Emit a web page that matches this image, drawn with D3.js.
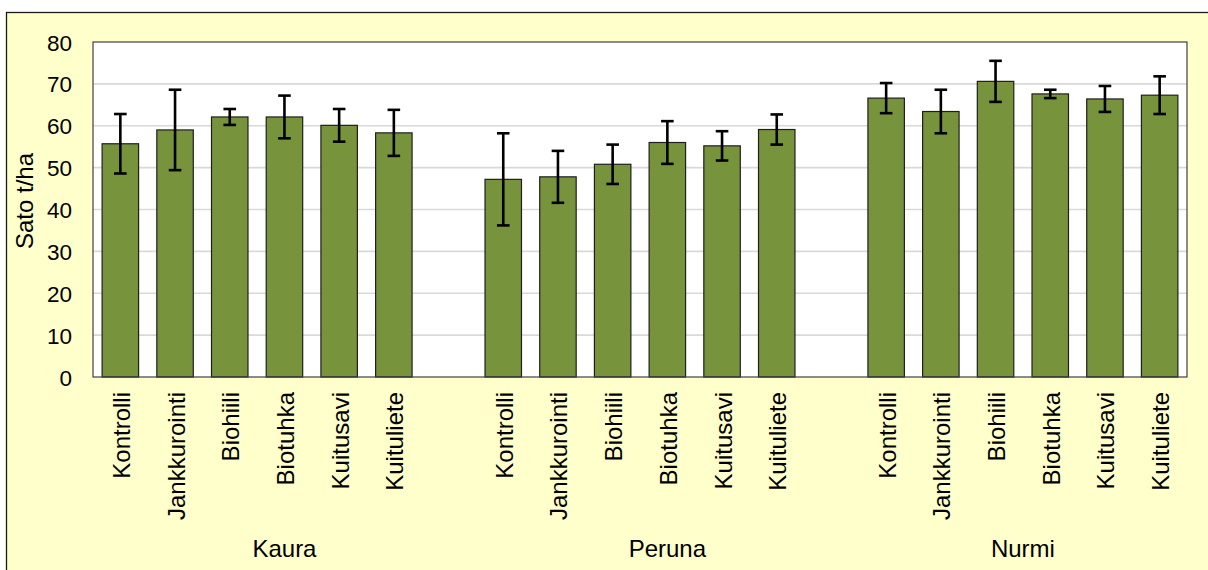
<!DOCTYPE html>
<html>
<head>
<meta charset="utf-8">
<script src="https://cdn.jsdelivr.net/npm/d3@7"></script>
<style>
  html, body { margin: 0; padding: 0; background: #ffffff; }
  svg { display: block; font-family: "Liberation Sans", Arial, sans-serif; }
</style>
</head>
<body>
<svg id="chart" width="1208" height="570"></svg>
<script>
// ---- data ----
const groups = ["Kaura", "Peruna", "Nurmi"];
const treatments = ["Kontrolli", "Jankkurointi", "Biohiili", "Biotuhka", "Kuitusavi", "Kuituliete"];
const kauraValues  = [55.7, 59.0, 62.1, 62.1, 60.1, 58.3];
const kauraErrors  = [7.1, 9.6, 1.9, 5.1, 3.9, 5.5];
const perunaValues = [47.2, 47.8, 50.8, 56.0, 55.2, 59.1];
const perunaErrors = [11.0, 6.2, 4.7, 5.1, 3.5, 3.6];
const nurmiValues  = [66.6, 63.4, 70.6, 67.6, 66.4, 67.3];
const nurmiErrors  = [3.6, 5.2, 4.9, 1.0, 3.1, 4.5];
const yTicks = [0, 10, 20, 30, 40, 50, 60, 70, 80];
const yTitle = "Sato t/ha";

const seriesValues = [kauraValues, perunaValues, nurmiValues];
const seriesErrors = [kauraErrors, perunaErrors, nurmiErrors];

// build slots: each group's treatments, plus an empty slot after all but the last group
const slots = [];
groups.forEach((g, gi) => {
  treatments.forEach((t, ti) => {
    slots.push({ key: g + "|" + t, group: g, label: t, value: seriesValues[gi][ti], err: seriesErrors[gi][ti] });
  });
  if (gi < groups.length - 1) slots.push({ key: g + "|blank", group: g, label: "", value: null, err: null });
});

// ---- layout ----
const svg = d3.select("#chart");
const W = 1208, H = 570;
const plot = { left: 93, right: 1187, top: 42, bottom: 377 };

// chart area background + border
svg.append("rect").attr("x", 6.5).attr("y", 12.5).attr("width", W + 10).attr("height", H + 10)
  .attr("fill", "#FFFFCC").attr("stroke", "#1a1a1a").attr("stroke-width", 1.3);

const x = d3.scaleBand().domain(slots.map(d => d.key))
  .range([plot.left, plot.right]).paddingInner(1/3).paddingOuter(1/6);
const y = d3.scaleLinear().domain([0, 80]).range([plot.bottom, plot.top]);

// plot area
svg.append("rect").attr("x", plot.left).attr("y", plot.top)
  .attr("width", plot.right - plot.left).attr("height", plot.bottom - plot.top)
  .attr("fill", "#ffffff");

// gridlines
svg.append("g").selectAll("line").data(yTicks.filter(t => t > 0 && t < 80)).join("line")
  .attr("x1", plot.left).attr("x2", plot.right)
  .attr("y1", d => y(d)).attr("y2", d => y(d))
  .attr("stroke", "#d9d9d9").attr("stroke-width", 1.6);

// y axis tick labels
const yAxis = d3.axisLeft(y).tickValues(yTicks).tickSize(0).tickPadding(0);
const yg = svg.append("g").attr("transform", `translate(${plot.left - 21},0)`).call(yAxis);
yg.select(".domain").remove();
yg.selectAll("text").attr("font-size", 22.5).attr("fill", "#000")
  .attr("font-family", "Liberation Sans, Arial, sans-serif").attr("dy", "0.36em");

// bars
const bars = slots.filter(d => d.value !== null);
svg.append("g").selectAll("rect").data(bars).join("rect")
  .attr("x", d => x(d.key)).attr("width", x.bandwidth())
  .attr("y", d => y(d.value)).attr("height", d => y(0) - y(d.value))
  .attr("fill", "#77933C").attr("stroke", "#1f1f1f").attr("stroke-width", 1.2);

// error bars
const eg = svg.append("g").attr("stroke", "#000").attr("stroke-width", 2.6);
const cap = 6.3;
bars.forEach(d => {
  const cx = x(d.key) + x.bandwidth() / 2;
  eg.append("line").attr("x1", cx).attr("x2", cx).attr("y1", y(d.value + d.err)).attr("y2", y(d.value - d.err));
  eg.append("line").attr("x1", cx - cap).attr("x2", cx + cap).attr("y1", y(d.value + d.err)).attr("y2", y(d.value + d.err));
  eg.append("line").attr("x1", cx - cap).attr("x2", cx + cap).attr("y1", y(d.value - d.err)).attr("y2", y(d.value - d.err));
});

// plot frame
svg.append("rect").attr("x", plot.left).attr("y", plot.top)
  .attr("width", plot.right - plot.left).attr("height", plot.bottom - plot.top)
  .attr("fill", "none").attr("stroke", "#404040").attr("stroke-width", 1.2);

// category labels (rotated)
svg.append("g").selectAll("text").data(bars).join("text")
  .attr("transform", d => `translate(${x(d.key) + x.bandwidth() / 2 + 9.5},392) rotate(-90)`)
  .attr("text-anchor", "end").attr("font-size", 24).attr("fill", "#000")
  .text(d => d.label);

// group labels
groups.forEach(g => {
  const ks = slots.filter(d => d.group === g);
  const x0 = x(ks[0].key) - x.step() * x.paddingInner() / 2;
  const x1 = x(ks[ks.length - 1].key) + x.bandwidth() + x.step() * x.paddingInner() / 2;
  svg.append("text").attr("x", (x0 + x1) / 2).attr("y", 557)
    .attr("text-anchor", "middle").attr("font-size", 24).attr("fill", "#000").text(g);
});

// y axis title
svg.append("text").attr("transform", "translate(33,201) rotate(-90)")
  .attr("text-anchor", "middle").attr("font-size", 24).attr("fill", "#000").text(yTitle);
</script>
</body>
</html>
